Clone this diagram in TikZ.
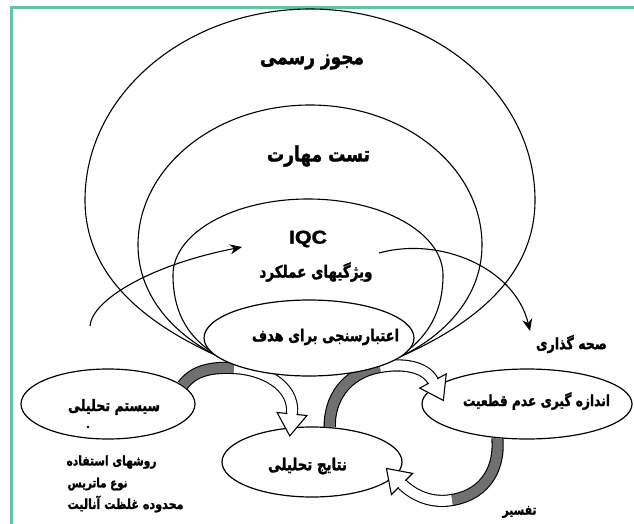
\documentclass[tikz,border=0pt]{standalone}
\usepackage{fontspec}
\usepackage{graphicx}
\usetikzlibrary{shapes.geometric,arrows.meta,calc}
\TeXXeTstate=1
\newfontfamily\fa[Script=Arabic,FakeBold=1.6]{DejaVu Sans}
\newfontfamily\latb[FakeBold=1.5]{Liberation Sans}
\definecolor{framec}{RGB}{98,196,160}
\definecolor{bandgray}{RGB}{112,112,112}
\newcommand\fat[2]{\scalebox{1}[1.25]{\resizebox{#1pt}{!}{\fa\bfseries #2}}}
\newcommand\openhead[2]{%
  \filldraw[headst] ($(#1)!15pt!90:(#2)$) -- ($(#1)!-22pt!(#2)$) -- ($(#1)!15pt!-90:(#2)$) -- cycle;
  \draw[white,line width=9pt] ($(#1)!2pt!(#2)$) -- ($(#1)!-2pt!(#2)$);
}
\begin{document}
\begin{tikzpicture}[x=1pt,y=-1pt,line width=1.1pt,
  txt/.style={inner sep=0pt},
  oval/.style={draw,ellipse,fill=white,inner sep=0pt,line width=1.2pt},
  ring/.style={draw,line width=1.1pt},
  lnarrow/.style={line width=1.1pt,-{Stealth[length=12pt,width=10pt]}},
  bandg/.style={line width=1.1pt,double=bandgray,double distance=10pt},
  bandw/.style={line width=1.1pt,double=white,double distance=10pt},
  headst/.style={fill=white,draw=black,line width=1.1pt,line join=miter}]
\useasboundingbox (0,0) rectangle (634,524);
\fill[white] (0,0) rectangle (634,524);
\draw[framec,line width=2.6pt] (11.5,524) -- (11.5,7.5) -- (634,7.5);

% convergence points
\coordinate (L) at (226,360);
\coordinate (R) at (393,360);

% nested rings
\draw[ring] (L) .. controls (170,335) and (85,290) .. (85,200)
  .. controls (85,94.5) and (185.7,9) .. (310,9)
  .. controls (434.3,9) and (535,94.5) .. (535,200)
  .. controls (535,290) and (450,335) .. (R);
\draw[ring] (L) .. controls (180,340) and (138,300) .. (138,245)
  .. controls (138,167.7) and (215,105) .. (310,105)
  .. controls (405,105) and (482,167.7) .. (482,245)
  .. controls (482,300) and (440,340) .. (R);
\draw[ring] (L) .. controls (195,345) and (173,320) .. (173,275)
  .. controls (173,233) and (233.4,199) .. (308,199)
  .. controls (382.6,199) and (443,233) .. (443,275)
  .. controls (443,320) and (420,345) .. (R);

% outer ellipses (needed as anchors for bands)
\node[oval,minimum width=174pt,minimum height=70pt] (sys) at (108,404) {};
\node[oval,minimum width=180pt,minimum height=70pt] (res) at (312,462) {};
\node[oval,minimum width=210pt,minimum height=70pt] (unc) at (527,404) {};

% band shafts
\coordinate (MA) at (234,368);
\coordinate (EA) at (292,414);
\coordinate (CA) at (295,385);
\draw[bandg] (sys.14) .. controls (194,370) and (212,367) .. (MA);
\draw[bandw] (MA) .. controls (262,369) and (295,385) .. (EA);

\coordinate (MB) at (380,367);
\coordinate (EB) at (433,381);
\coordinate (CB) at (425,366);
\draw[bandg] (res.63) .. controls (329,400) and (345,373) .. (MB);
\draw[bandw] (MB) .. controls (402,363) and (425,366) .. (EB);

\coordinate (MC) at (452,500);
\coordinate (EC) at (402,484);
\coordinate (CC) at (412,494);
\draw[bandg] (unc.-131) .. controls (500,465) and (488,494) .. (MC);
\draw[bandw] (MC) .. controls (430,504) and (412,494) .. (EC);

% central ellipse
\node[oval,minimum width=210pt,minimum height=76pt] (val) at (309,338) {};

% open heads
\openhead{EA}{CA}
\openhead{EB}{CB}
\openhead{EC}{CC}

% thin arrows
\coordinate (a1s) at (90,326);
\coordinate (a1e) at (242,247);
\draw[lnarrow] (a1s) .. controls (92,300) and (150,265) .. (a1e);
\coordinate (a2s) at (379,253);
\coordinate (a2e) at (530,331);
\draw[lnarrow] (a2s) .. controls (440,236) and (515,268) .. (a2e);

% labels
\node[txt] (tlic) at (312,62) {\fat{104}{\beginR مجوز رسمی\endR}};
\node[txt] (tpt) at (318.5,156) {\fat{103}{\beginR تست مهارت\endR}};
\node[txt] (tiqc) at (308,239) {\resizebox{38pt}{13pt}{\latb\bfseries IQC}};
\node[txt] (tperf) at (316,272) {\fat{113}{\beginR ویژگیهای عملکرد\endR}};
\node[txt] (tval) at (325.5,337) {\fat{147}{\beginR اعتبارسنجی برای هدف\endR}};
\node[txt] (tsys) at (114,407) {\fat{92}{\beginR سیستم تحلیلی\endR}};
\fill (88,427) circle (1.4pt);
\node[txt,anchor=west] (tm1) at (66,462) {\fat{90}{\beginR روشهای استفاده\endR}};
\node[txt,anchor=west] (tm2) at (67,484) {\fat{60}{\beginR نوع ماتریس\endR}};
\node[txt,anchor=west] (tm3) at (67,504) {\fat{116}{\beginR محدوده غلظت آنالیت\endR}};
\node[txt] (tres) at (307.5,466) {\fat{79}{\beginR نتایج تحلیلی\endR}};
\node[txt] (tunc) at (536.5,401) {\fat{147}{\beginR اندازه گیری عدم قطعیت\endR}};
\node[txt] (tsah) at (571.5,344) {\fat{71}{\beginR صحه گذاری\endR}};
\node[txt] (ttaf) at (519.5,512) {\fat{34}{\beginR تفسیر\endR}};
\end{tikzpicture}
\end{document}
